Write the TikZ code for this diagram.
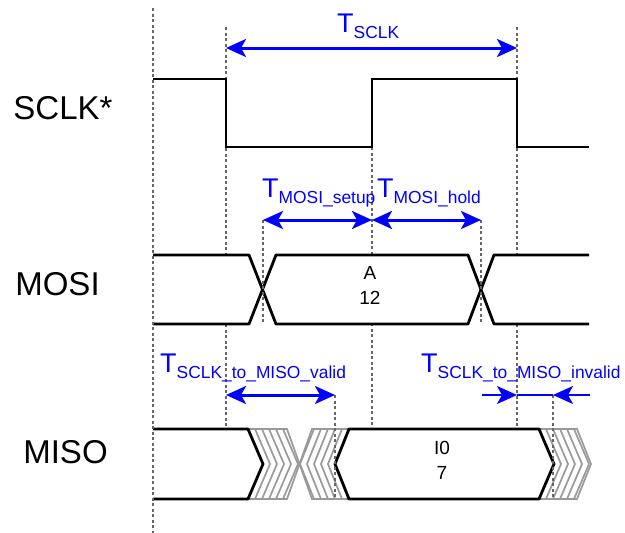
\documentclass[tikz,border=0pt]{standalone}
\usepackage{fontspec}
\setmainfont{Liberation Sans}
\usetikzlibrary{arrows.meta}

\newcommand{\tdelay}[1]{{\fontsize{27}{30}\selectfont T}\raisebox{-6.5pt}{\fontsize{17.4}{20}\selectfont #1}}

\tikzset{
  signame/.style={anchor=base, inner sep=0pt, font=\fontsize{33}{36}\selectfont},
  busval/.style={align=center, inner sep=0pt, font=\fontsize{19}{25}\selectfont},
  tlabel/.style={anchor=base west, inner sep=0pt, text=blue},
  wave/.style={line width=2.8pt},
  bus/.style={wave, fill=white, line join=round},
  hatchline/.style={line width=1.7pt, black!40},
  guide/.style={line width=1.2pt, black!60, dash pattern=on 3pt off 2.5pt},
  span/.style={line width=3pt, blue, {Stealth[length=20pt,width=18pt,inset=5pt]}-{Stealth[length=20pt,width=18pt,inset=5pt]}},
  stub/.style={line width=1.8pt, blue, -{Stealth[length=20pt,width=18pt,inset=5pt]}}
}

\begin{document}
\begin{tikzpicture}[x=1pt, y=-1pt]
\useasboundingbox (0,0) rectangle (625,533);

% signal names
\node[signame] (sclk) at (63,119) {SCLK*};
\node[signame] (mosi) at (57.5,295) {MOSI};
\node[signame] (miso) at (65.5,463) {MISO};

% long guides
\draw[guide] (226,27) -- (226,429);
\draw[guide] (372,147) -- (372,429);
\draw[guide] (517,27) -- (517,429);

% SCLK
\draw[wave] (153,79) -- (226,79) -- (226,147) -- (372,147) -- (372,79)
  -- (517,79) -- (517,147) -- (589,147);

% MOSI
\draw[bus] (153,255) -- (249,255) -- (262.5,289.5) -- (249,324) -- (153,324);
\draw[bus] (262.5,289.5) -- (276,255) -- (468,255) -- (481,289.5)
  -- (468,324) -- (276,324) -- cycle;
\draw[bus] (589,255) -- (494,255) -- (481,289.5) -- (494,324) -- (589,324);
\node[busval] (dA) at (370,285) {A\\12};

% MISO, undefined stretches
\begin{scope}
  \clip (248,429) -- (287,429) -- (299.5,464) -- (287,499) -- (248,499) -- (263,464) -- cycle;
  \foreach \k in {1,...,7}
    \draw[hatchline] ({248+7*\k},429) -- ++(15,35) -- ++(-15,35);
\end{scope}
\begin{scope}
  \clip (312,429) -- (349,429) -- (335,464) -- (349,499) -- (312,499) -- (299.5,464) -- cycle;
  \foreach \k in {1,...,7}
    \draw[hatchline] ({349-7*\k},429) -- ++(-14,35) -- ++(14,35);
\end{scope}
\draw[hatchline] (248,429) -- (287,429) -- (312,499) -- (349,499);
\draw[hatchline] (248,499) -- (287,499) -- (312,429) -- (349,429);
\begin{scope}
  \clip (539,429) -- (577,429) -- (591,464) -- (577,499) -- (539,499) -- (554,464) -- cycle;
  \foreach \k in {1,...,6}
    \draw[hatchline] ({539+7*\k},429) -- ++(15,35) -- ++(-15,35);
\end{scope}
\draw[hatchline] (539,429) -- (577,429) -- (591,464) -- (577,499) -- (539,499);

% MISO
\draw[bus] (153,429) -- (248,429) -- (263,464) -- (248,499) -- (153,499);
\draw[bus] (349,429) -- (539,429) -- (554,464) -- (539,499) -- (349,499)
  -- (335,464) -- cycle;
\node[busval] (dI) at (442,460) {I0\\7};

% short guides
\draw[guide] (153,8) -- (153,533);
\draw[guide] (263,220) -- (263,324);
\draw[guide] (481,220) -- (481,324);
\draw[guide] (335,395) -- (335,499);
\draw[guide] (553,395) -- (553,499);

% timing arrows
\coordinate (clkL) at (226,48);
\coordinate (clkR) at (517,48);
\coordinate (setL) at (263,220);
\coordinate (edge) at (372,220);
\coordinate (holdR) at (481,220);
\coordinate (valL) at (226,395);
\coordinate (valR) at (335,395);
\coordinate (invA) at (482,395);
\coordinate (invL) at (517,395);
\coordinate (invR) at (553,395);
\coordinate (invB) at (590,395);

\draw[span] (clkL) -- (clkR);
\draw[span] (setL) -- (edge);
\draw[span] (edge) -- (holdR);
\draw[span] (valL) -- (valR);
\draw[line width=1.8pt, blue] (invL) -- (invR);
\draw[stub] (invA) -- (invL);
\draw[stub] (invB) -- (invR);

\node[tlabel] (tclk) at (337,32) {\tdelay{SCLK}};
\node[tlabel] (tset) at (262,197) {\tdelay{MOSI\_setup}};
\node[tlabel] (thold) at (377,197) {\tdelay{MOSI\_hold}};
\node[tlabel] (tval) at (160,372) {\tdelay{SCLK\_to\_MISO\_valid}};
\node[tlabel] (tinv) at (421,372) {\tdelay{SCLK\_to\_MISO\_invalid}};

\end{tikzpicture}
\end{document}
